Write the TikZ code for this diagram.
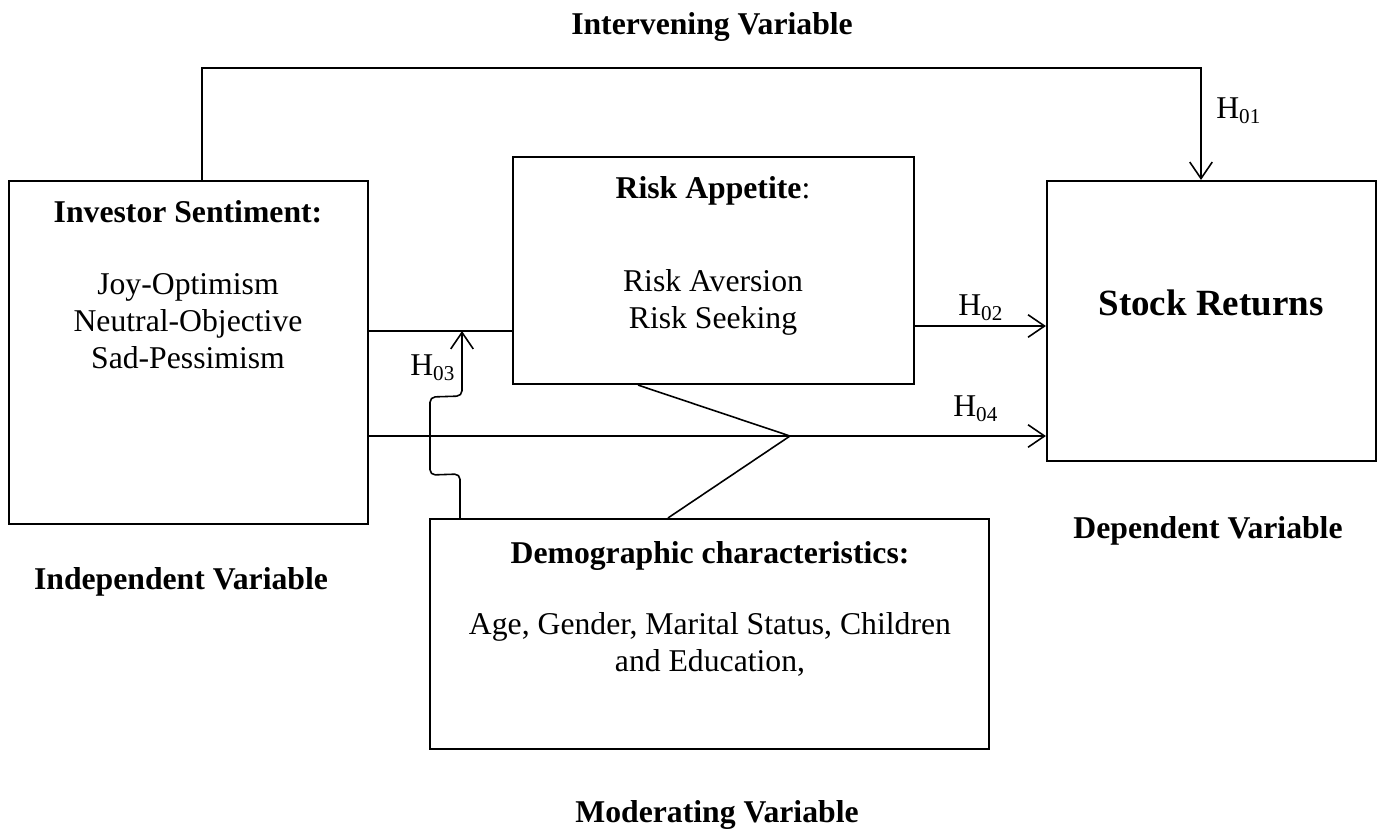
\documentclass[tikz,border=0pt]{standalone}
\usepackage{fontspec}
\setmainfont{Liberation Serif}
\usetikzlibrary{arrows.meta,fit}
\tikzset{
    every node/.style={inner sep=0mm, align=center, font=\fontsize{12}{14}\selectfont},
    box/.style={draw, rectangle, line width=0.8pt},
    conn/.style={line width=0.6pt},
    arr/.style={conn, -{Straight Barb[length=2.2mm, width=3mm]}}
}

\begin{document}
\begin{tikzpicture}[x=0.0133cm, y=-0.0133cm]
    \useasboundingbox (0,0) rectangle (1378,831);

    % boxes
    \node (lbox) [box, fit={(9,181) (368,524)}] {};
    \node (rbox) [box, fit={(513,157) (914,384)}] {};
    \node (sbox) [box, fit={(1047,181) (1376,461)}] {};
    \node (dbox) [box, fit={(430,519) (989,749)}] {};

    % box texts
    \node (lhead) at (188,212) {\bfseries Investor Sentiment:};
    \node (ltext) at (188,321) {Joy-Optimism\\Neutral-Objective\\Sad-Pessimism};
    \node (rhead) at (713,191) {\textbf{Risk Appetite}:};
    \node (rtext) at (713,302) {Risk Aversion\\Risk Seeking};
    \node (stext) at (1211,303) {\fontsize{14}{17}\selectfont\bfseries Stock Returns};
    \node (dhead) at (710,556) {\bfseries Demographic characteristics:};
    \node (dtext) at (710,644) {Age, Gender, Marital Status, Children\\and Education,};

    % variable titles
    \node (tint) at (712,27) {\bfseries Intervening Variable};
    \node (tind) at (181,582) {\bfseries Independent Variable};
    \node (tdep) at (1208,531) {\bfseries Dependent Variable};
    \node (tmod) at (717,815) {\bfseries Moderating Variable};

    % H01
    \coordinate (h1a) at (202,68);
    \coordinate (h1b) at (1201,68);
    \draw[arr] (lbox.north -| h1a) -- (h1a) -- (h1b) -- (sbox.north -| h1b);
    \node (h01) at (1239,111) {H\textsubscript{01}};

    % H02
    \draw[conn] (lbox.east |- 0,331) -- (rbox.west |- 0,331);
    \draw[arr] (rbox.east |- 0,326) -- (sbox.west |- 0,326);
    \node (h02) at (981,308) {H\textsubscript{02}};

    % H03
    \coordinate (h3e) at (462,331);
    \draw[arr, rounded corners=2pt] (dbox.north -| 460,0) -- (460,474) -- (430,475)
        -- (430,397) -- (462,396) -- (h3e);
    \node (h03) at (433,368) {H\textsubscript{03}};

    % H04
    \draw[arr] (lbox.east |- 0,436) -- (sbox.west |- 0,436);
    \node (h04) at (976,409) {H\textsubscript{04}};

    % moderation
    \coordinate (mx) at (790,436);
    \draw[conn] (rbox.south -| 638,0) -- (mx) -- (dbox.north -| 668,0);
\end{tikzpicture}
\end{document}
